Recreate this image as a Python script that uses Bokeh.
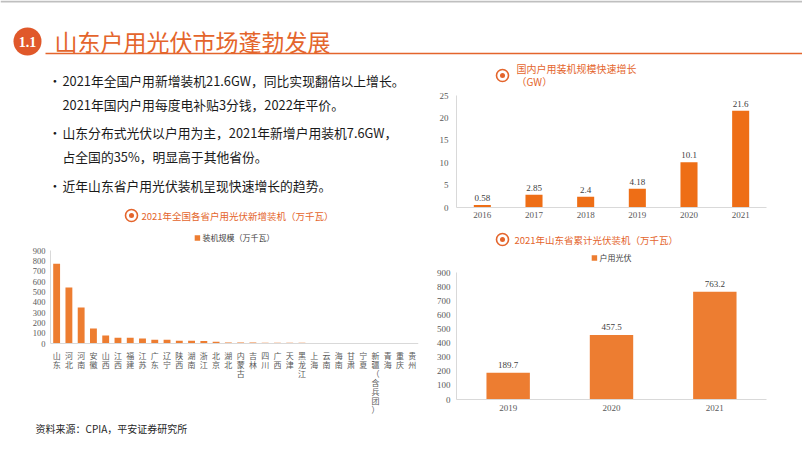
from bokeh.plotting import figure
from bokeh.layouts import column, row
from bokeh.models import Range1d, FactorRange, FixedTicker, Label
from bokeh.core.properties import value
from bokeh.embed import file_html
from bokeh.resources import INLINE

# ---------------- data ----------------
page_title = "山东户用光伏市场蓬勃发展"
section_no = "1.1"
bullets = [
    ("•", "2021年全国户用新增装机21.6GW，同比实现翻倍以上增长。"),
    ("", "2021年国内户用每度电补贴3分钱，2022年平价。"),
    ("•", "山东分布式光伏以户用为主，2021年新增户用装机7.6GW，"),
    ("", "占全国的35%，明显高于其他省份。"),
    ("•", "近年山东省户用光伏装机呈现快速增长的趋势。"),
]
source_text = "资料来源：CPIA，平安证券研究所"

prov_title = "2021年全国各省户用光伏新增装机（万千瓦）"
prov_series = "装机规模（万千瓦）"
provinces = ["山东", "河北", "河南", "安徽", "山西", "江西", "福建", "江苏", "广东", "辽宁",
             "陕西", "湖南", "浙江", "北京", "湖北", "内蒙古", "吉林", "四川", "广西", "天津",
             "黑龙江", "上海", "云南", "海南", "甘肃", "宁夏", "新疆（含兵团）", "青海", "重庆", "贵州"]
prov_values = [772, 542, 348, 145, 77, 55, 55, 48, 36, 36,
               26, 26, 25, 16, 10, 9, 9, 8, 8, 7,
               7, 6, 6, 5, 5, 5, 4, 4, 4, 3]
prov_ticks = [0, 100, 200, 300, 400, 500, 600, 700, 800, 900]

gw_title_1 = "国内户用装机规模快速增长"
gw_title_2 = "（GW）"
gw_years = ["2016", "2017", "2018", "2019", "2020", "2021"]
gw_values = [0.58, 2.85, 2.4, 4.18, 10.1, 21.6]
gw_labels = ["0.58", "2.85", "2.4", "4.18", "10.1", "21.6"]
gw_ticks = [0, 5, 10, 15, 20, 25]

sd_title = "2021年山东省累计光伏装机（万千瓦）"
sd_series = "户用光伏"
sd_years = ["2019", "2020", "2021"]
sd_values = [189.7, 457.5, 763.2]
sd_labels = ["189.7", "457.5", "763.2"]
sd_ticks = [0, 100, 200, 300, 400, 500, 600, 700, 800, 900]

# ---------------- styles ----------------
CJK = "Noto Sans CJK SC"
SERIF = "Liberation Serif"
TITLE_C = "#E4652C"
BADGE_C = "#E0582A"
BAR_C = "#ED7D31"
BAR_C2 = "#EE6E16"
TICK_C = "#595959"
AXIS_C = "#D9D9D9"

# frame geometry (page pixels) shared by the plots in each column
L_LEFT, L_RIGHT = 50, 2      # left column (420 px wide)
R_LEFT, R_RIGHT = 36, 36     # right column (382 px wide)


def canvas(w, h, bl, br, x0):
    p = figure(width=w, height=h, x_range=Range1d(x0 + bl, x0 + w - br),
               y_range=Range1d(h, 0), x_axis_type=None, y_axis_type=None,
               toolbar_location=None, output_backend="svg",
               min_border_left=bl, min_border_right=br, min_border_top=0,
               min_border_bottom=0)
    p.outline_line_color = None
    p.background_fill_color = "white"
    p.border_fill_color = "white"
    return p


def label(p, x, y, text, size, color, font=CJK, style="normal", align="left"):
    p.add_layout(Label(x=x, y=y, text=text, text_font=font, text_font_size=size,
                       text_color=color, text_font_style=style, text_align=align,
                       text_baseline="middle"))


def icon(p, x, y):
    p.scatter([x], [y], marker="circle", size=12, fill_color=None,
              line_color=TITLE_C, line_width=1.6)
    p.scatter([x], [y], marker="circle", size=5, fill_color=TITLE_C, line_color=None)


def style_axes(p, font_size):
    for ax in (p.xaxis[0], p.yaxis[0]):
        ax.axis_line_color = AXIS_C
        ax.major_tick_line_color = None
        ax.minor_tick_line_color = None
        ax.major_tick_out = 0
        ax.major_tick_in = 0
        ax.major_label_text_color = TICK_C
        ax.major_label_text_font = SERIF
        ax.major_label_text_font_size = font_size
    p.xgrid.visible = False
    p.ygrid.visible = False
    p.outline_line_color = None


def style_legend(p):
    lg = p.legend[0]
    lg.location = "top_center"
    lg.orientation = "horizontal"
    lg.border_line_color = None
    lg.background_fill_alpha = 0
    lg.label_text_font = CJK
    lg.label_text_font_size = "8px"
    lg.label_text_color = "#404040"
    lg.glyph_width = 7
    lg.glyph_height = 7
    lg.label_standoff = 2
    lg.padding = 1
    lg.margin = 2
    lg.label_height = 9


# ---------------- header ----------------
header = canvas(802, 58, 0, 0, 0)
header.segment(x0=[0], y0=[1], x1=[802], y1=[1], line_color="#BFBFBF", line_width=2)
header.circle(x=[27], y=[41], radius=14, fill_color=BADGE_C, line_color=None)
label(header, 27, 41, section_no, "14px", "white", font=SERIF, style="bold", align="center")
label(header, 54, 40, page_title, "23px", TITLE_C)
header.segment(x0=[45], y0=[53], x1=[802], y1=[53], line_color=TITLE_C, line_width=1.3)

# ---------------- bullets ----------------
bul = canvas(420, 142, L_LEFT, L_RIGHT, 0)
line_y = [22, 46, 74, 98, 127]
for (mark, txt), yy in zip(bullets, line_y):
    if mark:
        label(bul, 48, yy, mark, "12.8px", "#1a1a1a")
    label(bul, 62, yy, txt, "12.8px", "#1a1a1a")

# ---------------- left chart ----------------
lt = canvas(420, 28, L_LEFT, L_RIGHT, 0)
icon(lt, 131, 15)
label(lt, 141, 15, prov_title, "9.5px", TITLE_C)

# frame: page y 230..414 ; value 0 at y 343, 900 at y 250
lc = figure(width=420, height=190, x_range=FactorRange(*provinces),
            y_range=Range1d(-900 * 71 / 93, 900 * 113 / 93), toolbar_location=None,
            output_backend="svg", min_border_left=L_LEFT, min_border_right=L_RIGHT,
            min_border_top=2, min_border_bottom=4)
lc.vbar(x=provinces, top=prov_values, width=0.56, fill_color=BAR_C,
        line_color=None, legend_label=prov_series)
style_axes(lc, "8.5px")
lc.yaxis[0].ticker = FixedTicker(ticks=prov_ticks)
lc.yaxis[0].bounds = (0, 900)
lc.yaxis[0].major_label_standoff = 5
lc.xaxis[0].fixed_location = 0
lc.xaxis[0].major_label_text_color = None
for name in provinces:
    chars = list(name)
    lc.text(x=[name] * len(chars), y=[0] * len(chars), text=chars,
            y_offset=[6 + 9 * i for i in range(len(chars))],
            text_color=TICK_C, text_font=value(CJK), text_font_size="8px",
            text_align="center", text_baseline="top")
style_legend(lc)

# ---------------- right top chart ----------------
rt = canvas(382, 30, R_LEFT, R_RIGHT, 420)
icon(rt, 502, 17)
label(rt, 516, 10, gw_title_1, "10px", TITLE_C)
label(rt, 516, 23, gw_title_2, "10px", TITLE_C)

rc = figure(width=382, height=137, x_range=FactorRange(*gw_years),
            y_range=Range1d(0, 25), toolbar_location=None, output_backend="svg",
            min_border_left=R_LEFT, min_border_right=R_RIGHT, min_border_top=7,
            min_border_bottom=18)
rc.vbar(x=gw_years, top=gw_values, width=0.33, fill_color=BAR_C2, line_color=None)
rc.text(x=gw_years, y=gw_values, text=gw_labels, y_offset=-4,
        text_color="#404040", text_font=value(SERIF), text_font_size="9px",
        text_align="center", text_baseline="bottom")
style_axes(rc, "9px")
rc.yaxis[0].ticker = FixedTicker(ticks=gw_ticks)
rc.yaxis[0].major_label_standoff = 8
rc.xaxis[0].major_label_standoff = 4

# ---------------- right bottom chart ----------------
rb_t = canvas(382, 24, R_LEFT, R_RIGHT, 420)
icon(rb_t, 502, 14)
label(rb_t, 514, 14, sd_title, "9.5px", TITLE_C)

rb = figure(width=382, height=169, x_range=FactorRange(*sd_years),
            y_range=Range1d(0, 900 * 149 / 127), toolbar_location=None,
            output_backend="svg", min_border_left=R_LEFT, min_border_right=R_RIGHT,
            min_border_top=1, min_border_bottom=19)
rb.vbar(x=sd_years, top=sd_values, width=0.42, fill_color=BAR_C,
        line_color=None, legend_label=sd_series)
rb.text(x=sd_years, y=sd_values, text=sd_labels, y_offset=-5,
        text_color="#404040", text_font=value(SERIF), text_font_size="9px",
        text_align="center", text_baseline="bottom")
style_axes(rb, "9px")
rb.yaxis[0].ticker = FixedTicker(ticks=sd_ticks)
rb.yaxis[0].bounds = (0, 900)
rb.yaxis[0].major_label_standoff = 6
rb.xaxis[0].major_label_standoff = 5
style_legend(rb)

# ---------------- footer ----------------
footer = canvas(802, 30, 0, 0, 0)
label(footer, 35, 10, source_text, "10px", "#262626")

left_col = column(bul, lt, lc, spacing=0)
right_col = column(rt, rc, rb_t, rb, spacing=0)
page = column(header, row(left_col, right_col, spacing=0), footer, spacing=0)

open("out.html", "w").write(file_html(page, INLINE))
